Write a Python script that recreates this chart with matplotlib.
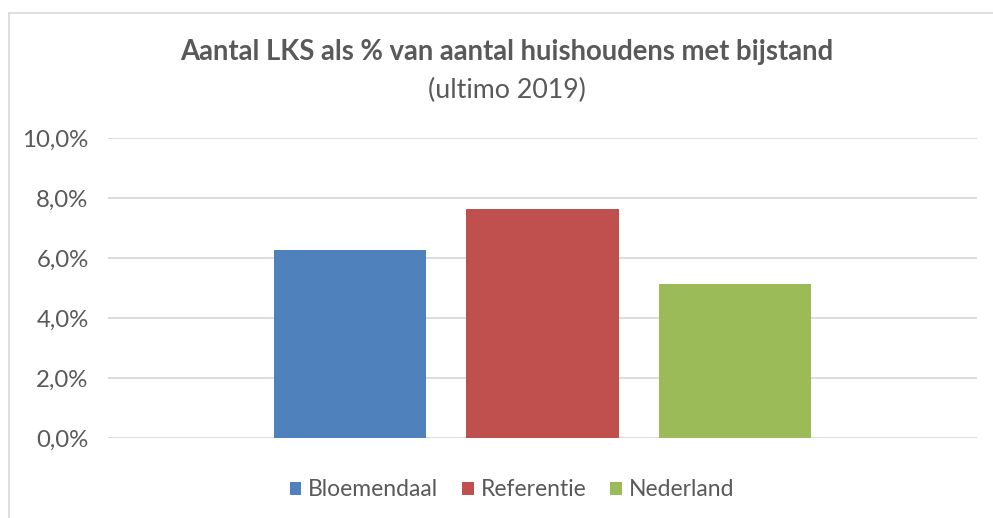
import matplotlib
matplotlib.use("Agg")
import matplotlib.pyplot as plt
from matplotlib.lines import Line2D
from matplotlib.patches import Patch
from matplotlib.ticker import FuncFormatter

# data
series = ["Bloemendaal", "Referentie", "Nederland"]
values = [6.27, 7.63, 5.13]
colors = ["#4f81bd", "#c0504d", "#9bbb59"]
y_ticks = [0, 2, 4, 6, 8, 10]

title = "Aantal LKS als % van aantal huishoudens met bijstand"
subtitle = "(ultimo 2019)"

text_col = "#595959"
grid_col = "#d9d9d9"
plt.rcParams["font.family"] = ["Lato", "DejaVu Sans"]

W, H = 993, 518
fig = plt.figure(figsize=(W / 100, H / 100), dpi=100)
fig.patch.set_facecolor("white")

# plot area in pixels
left, right, top, bottom = 108, 977, 138, 438
ax = fig.add_axes([left / W, 1 - bottom / H, (right - left) / W, (bottom - top) / H])

spacing = 1.266
pos = [(i - 1) * spacing for i in range(len(series))]
ax.bar(pos, values, width=1.0, color=colors, zorder=2)

ax.set_xlim(-2.858, 2.858)
ax.set_ylim(0, 10)
ax.set_yticks(y_ticks)
ax.yaxis.set_major_formatter(FuncFormatter(lambda v, _: f"{v:.1f}%".replace(".", ",")))
ax.set_xticks([])
ax.grid(axis="y", color=grid_col, lw=1.3, zorder=0)
for s in ax.spines.values():
    s.set_visible(False)
ax.tick_params(axis="y", length=0, pad=14, labelsize=17.3, labelcolor=text_col)

# chart frame (only top and left visible in crop)
fig.add_artist(Line2D([9 / W, 1], [1 - 13 / H, 1 - 13 / H], color=grid_col, lw=1.2))
fig.add_artist(Line2D([9 / W, 9 / W], [0, 1 - 13 / H], color=grid_col, lw=1.2))

fig.text(507 / W, 1 - 52 / H, title, ha="center", va="center",
         fontsize=19.8, fontweight="bold", color=text_col)
fig.text(507 / W, 1 - 90 / H, subtitle, ha="center", va="center",
         fontsize=19.3, color=text_col)

handles = [Patch(facecolor=c, label=s) for c, s in zip(colors, series)]
fig.legend(handles=handles, loc="center", bbox_to_anchor=(512 / W, 1 - 490 / H),
           ncol=3, frameon=False, fontsize=16.5, labelcolor=text_col,
           handlelength=0.5, handleheight=0.5, handletextpad=0.3, columnspacing=1.05)

fig.savefig("out.png", dpi=100)
